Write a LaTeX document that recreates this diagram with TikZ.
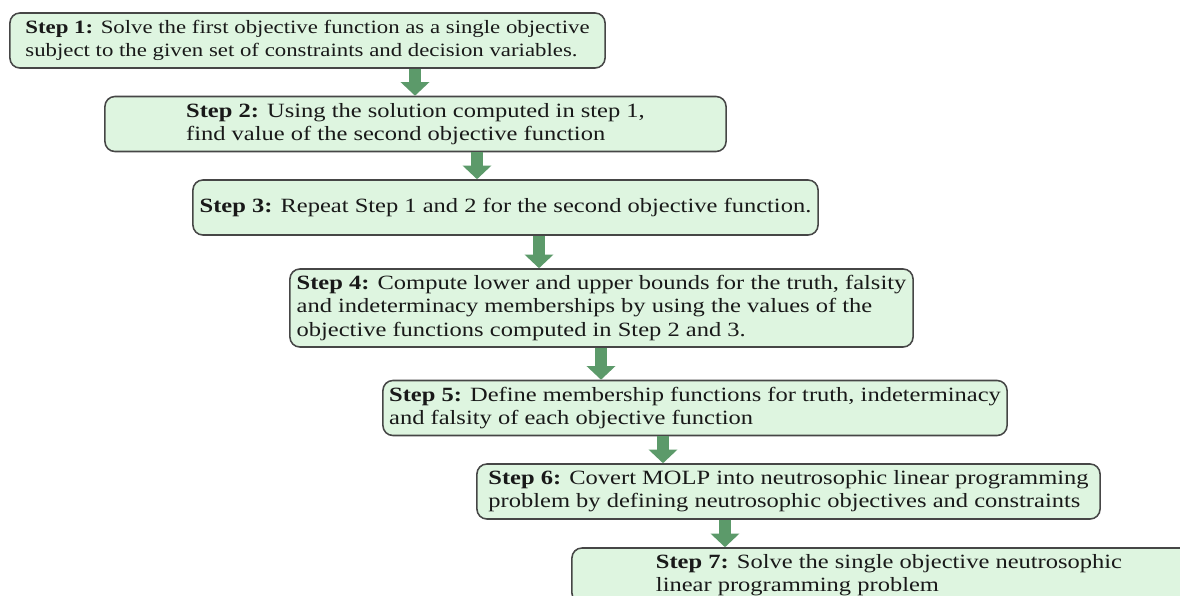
\documentclass[tikz,border=0pt]{standalone}
\usepackage{fontspec}
\setmainfont{Liberation Serif}[FakeStretch=1.21]
\usepackage{xcolor}
\usepackage{tikz}
\usetikzlibrary{
	arrows.meta,
	calc,
	positioning
}
\definecolor{LightGreen}{RGB}{222, 245, 224}
\definecolor{ArrowGreen}{RGB}{92, 154, 106}
\definecolor{BoxLine}{RGB}{70, 70, 70}

\begin{document}
\begin{tikzpicture}[x=0.025cm, y=-0.025cm, % 1 unit = 1 pixel of the reference, y grows downwards
		stepbox/.style={draw=BoxLine, line width=1.1pt, fill=LightGreen, rounded corners=0.25cm, align=left, inner sep=0pt, minimum height=1.375cm, text=black!90, font=\fontsize{14.4}{16.4}\selectfont},
		bigarrow/.style={draw=ArrowGreen, line width=0.3cm, -{Triangle[width=0.7cm, length=0.34cm]}}]
		\clip (0,0) rectangle (1180,595);
		\fill[white] (0,0) rectangle (1180,595);
		\node[stepbox, minimum width=14.875cm, font=\fontsize{13.4}{16.4}\selectfont] (s1) at (307.5,40.5) {\textbf{Step 1:} Solve the first objective function as a single objective\\subject to the given set of constraints and decision variables.};
		\node[stepbox, minimum width=15.525cm] (s2) at (415.5,124) {\textbf{Step 2:} Using the solution computed in step 1,\\find value of the second objective function};
		\node[stepbox, minimum width=15.625cm] (s3) at (505.5,207.5) {\textbf{Step 3:} Repeat Step 1 and 2 for the second objective function.};
		\node[stepbox, minimum width=15.575cm, minimum height=1.95cm] (s4) at (601.5,308) {\textbf{Step 4:} Compute lower and upper bounds for the truth, falsity\\and indeterminacy memberships by using the values of the\\objective functions computed in Step 2 and 3.};
		\node[stepbox, minimum width=15.6cm] (s5) at (695,408) {\textbf{Step 5:} Define membership functions for truth, indeterminacy\\and falsity of each objective function};
		\node[stepbox, minimum width=15.575cm] (s6) at (788.5,491.5) {\textbf{Step 6:} Covert MOLP into neutrosophic linear programming\\problem by defining neutrosophic objectives and constraints};
		\node[stepbox, minimum width=15.85cm] (s7) at (889,575.5) {\textbf{Step 7:} Solve the single objective neutrosophic\\linear programming problem};
		\foreach \a/\b/\x in {s1/s2/415, s2/s3/477, s3/s4/539, s4/s5/601, s5/s6/663, s6/s7/725}
		\draw[bigarrow] (\x,0 |- \a.south) -- (\x,0 |- \b.north);
	\end{tikzpicture}
\end{document}
